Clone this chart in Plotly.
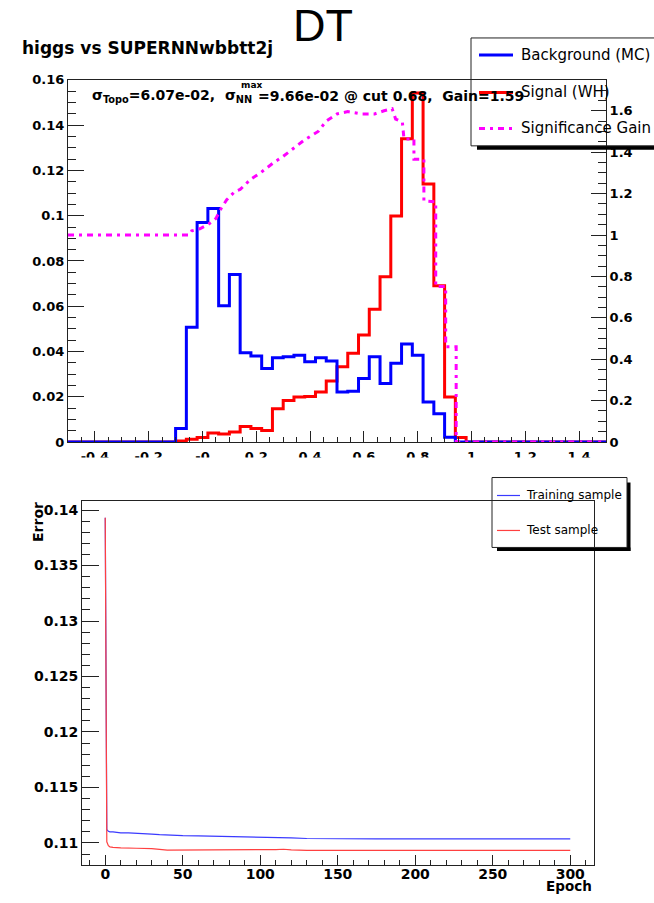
import numpy as np
import plotly.graph_objects as go

W, H = 654, 903

# ---------------- data: top panel (MVA output histograms) ----------------
bin_lo, bin_hi, n_bins = -0.5, 1.5, 50
background_mc = [
    0, 0, 0, 0, 0, 0, 0, 0, 0, 0,
    0.006, 0.0507, 0.097, 0.1032, 0.0602, 0.074, 0.0395, 0.038, 0.0325, 0.0373,
    0.0377, 0.0384, 0.0355, 0.0373, 0.0358, 0.0221, 0.0224, 0.0281, 0.0377, 0.0259,
    0.0348, 0.0433, 0.0384, 0.0177, 0.0125, 0.0021, 0, 0, 0, 0,
    0, 0, 0, 0, 0, 0, 0, 0, 0, 0,
]
signal_wh = [
    0, 0, 0, 0, 0, 0, 0, 0, 0, 0,
    0.0005, 0.0012, 0.002, 0.004, 0.0036, 0.0044, 0.0069, 0.006, 0.0051, 0.0147,
    0.0184, 0.0199, 0.0201, 0.0221, 0.027, 0.0333, 0.0392, 0.0473, 0.0587, 0.073,
    0.0999, 0.134, 0.1542, 0.114, 0.0691, 0.0199, 0.002, 0, 0, 0,
    0, 0, 0, 0, 0, 0, 0, 0, 0, 0,
]
gain_cut = [-0.50, -0.05, -0.04, -0.01, 0.02, 0.05, 0.07, 0.09, 0.12, 0.14, 0.18, 0.215,
            0.265, 0.30, 0.34, 0.38, 0.43, 0.46, 0.50, 0.54, 0.59, 0.64, 0.675, 0.705,
            0.718, 0.743, 0.749, 0.786, 0.786, 0.823, 0.823, 0.867, 0.867, 0.904, 0.904,
            0.943, 0.943, 1.50]
gain_val = [1.00, 1.00, 1.02, 1.03, 1.05, 1.08, 1.13, 1.17, 1.21, 1.22, 1.27, 1.30,
            1.35, 1.38, 1.42, 1.46, 1.50, 1.55, 1.585, 1.596, 1.585, 1.585, 1.60, 1.61,
            1.56, 1.545, 1.464, 1.464, 1.366, 1.366, 1.164, 1.16, 0.751, 0.751, 0.46,
            0.46, 0.0, 0.0]
top_xtick_vals = [-0.4, -0.2, 0.0, 0.2, 0.4, 0.6, 0.8, 1.0, 1.2, 1.4]
top_xtick_text = ["-0.4", "-0.2", "-0", "0.2", "0.4", "0.6", "0.8", "1", "1.2", "1.4"]

# ---------------- data: bottom panel (training error) ----------------
train_epoch = [0, 1, 2, 3, 5, 8, 10, 15, 20, 25, 30, 35, 40, 45, 50, 60, 70, 80, 90,
               100, 110, 120, 130, 140, 150, 175, 200, 225, 250, 275, 300]
train_error = [0.1393, 0.1112, 0.11105, 0.1110, 0.1110, 0.11095, 0.1109, 0.1109, 0.11088,
               0.11085, 0.1108, 0.11075, 0.1107, 0.11068, 0.11066, 0.11064, 0.11062,
               0.1106, 0.11057, 0.11055, 0.1105, 0.11045, 0.1104, 0.11038, 0.11037,
               0.11036, 0.11036, 0.11036, 0.11036, 0.11036, 0.11036]
test_epoch = [0, 1, 2, 3, 5, 10, 20, 30, 40, 50, 60, 70, 80, 100, 110, 115, 120, 130,
              150, 175, 200, 225, 250, 275, 300]
test_error = [0.1393, 0.1101, 0.10975, 0.10965, 0.1096, 0.10955, 0.10952, 0.10948,
              0.10935, 0.10935, 0.10935, 0.10937, 0.10935, 0.10935, 0.1094, 0.10943,
              0.10937, 0.10933, 0.10932, 0.10932, 0.10932, 0.10932, 0.10932, 0.10932,
              0.10932]

# ---------------- geometry helpers (picture pixels -> paper fractions) ----------------
SY, OY = 0.9844, 6.0   # vertical mapping observed between page and photograph


def fx(p):
    return p / W


def fy(p):
    return 1 - ((p - OY) / SY) / H


edges = np.linspace(bin_lo, bin_hi, n_bins + 1)


def steps(vals):
    return list(vals) + [vals[-1]]


BOLD = dict(family="DejaVu Sans", size=13, color="black", weight="bold")
BOLD14 = dict(family="DejaVu Sans", size=14, color="black", weight="bold")

fig = go.Figure()
fig.add_trace(go.Scatter(x=edges, y=steps(signal_wh), mode="lines", line_shape="hv",
                         line=dict(color="#ff0000", width=3), xaxis="x", yaxis="y",
                         name="Signal (WH)"))
fig.add_trace(go.Scatter(x=edges, y=steps(background_mc), mode="lines", line_shape="hv",
                         line=dict(color="#0000ff", width=3), xaxis="x", yaxis="y",
                         name="Background (MC)"))
fig.add_trace(go.Scatter(x=gain_cut, y=gain_val, mode="lines",
                         line=dict(color="#ff00ff", width=3, dash="6px,5px,3px,5px"),
                         xaxis="x", yaxis="y2", name="Significance Gain"))
fig.add_trace(go.Scatter(x=train_epoch, y=train_error, mode="lines",
                         line=dict(color="#3a3aff", width=1.2), xaxis="x2", yaxis="y3",
                         name="Training sample"))
fig.add_trace(go.Scatter(x=test_epoch, y=test_error, mode="lines",
                         line=dict(color="#ff4040", width=1.2), xaxis="x2", yaxis="y3",
                         name="Test sample"))

axis_common = dict(showgrid=False, zeroline=False, showline=True, linecolor="#222",
                   linewidth=1, ticks="inside", tickcolor="#222", tickwidth=1)

fig.update_layout(
    width=W, height=H, margin=dict(l=0, r=0, t=0, b=0),
    paper_bgcolor="white", plot_bgcolor="white", showlegend=False,
    xaxis=dict(domain=[fx(68), fx(606)], anchor="y", range=[bin_lo, bin_hi],
               tickmode="array", tickvals=top_xtick_vals, ticktext=top_xtick_text,
               ticklen=11, mirror=True, tickfont=BOLD, ticklabelstandoff=2,
               minor=dict(ticks="inside", ticklen=5, tickmode="linear", tick0=-0.5,
                          dtick=0.05, tickcolor="#222"),
               **axis_common),
    yaxis=dict(domain=[fy(441.5), fy(79)], anchor="x", range=[0, 0.16],
               tickmode="linear", tick0=0, dtick=0.02, ticklen=16, tickfont=BOLD,
               minor=dict(ticks="inside", ticklen=8, tickmode="linear", tick0=0,
                          dtick=0.005, tickcolor="#222"),
               **axis_common),
    yaxis2=dict(overlaying="y", anchor="x", side="right", range=[0, 1.749],
                tickmode="linear", tick0=0, dtick=0.2, ticklen=15, tickfont=BOLD,
                minor=dict(ticks="inside", ticklen=8, tickmode="linear", tick0=0,
                           dtick=0.05, tickcolor="#222"),
                **axis_common),
    xaxis2=dict(domain=[fx(82), fx(593.5)], anchor="y3", range=[-15, 315],
                tickmode="linear", tick0=0, dtick=50, ticklen=10, mirror=True,
                tickfont=BOLD14, ticklabelstandoff=-4,
                minor=dict(ticks="inside", ticklen=5, tickmode="linear", tick0=0,
                           dtick=10, tickcolor="#222"),
                **axis_common),
    yaxis3=dict(domain=[fy(865), fy(500.7)], anchor="x2", range=[0.1080, 0.1408],
                tickmode="linear", tick0=0.11, dtick=0.005, ticklen=17, mirror=True,
                tickfont=BOLD14,
                minor=dict(ticks="inside", ticklen=8, tickmode="linear", tick0=0.11,
                           dtick=0.001, tickcolor="#222"),
                **axis_common),
)

shapes = []
annotations = []


def rect(x0, y0, x1, y1, fill=None, line=None, layer="above"):
    d = dict(type="rect", xref="paper", yref="paper", x0=fx(x0), x1=fx(x1),
             y0=fy(y1), y1=fy(y0), layer=layer)
    d["fillcolor"] = fill if fill else "rgba(0,0,0,0)"
    d["line"] = line if line else dict(width=0)
    shapes.append(d)


def hline(x0, x1, y, color, width, dash="solid"):
    shapes.append(dict(type="line", xref="paper", yref="paper", x0=fx(x0), x1=fx(x1),
                       y0=fy(y), y1=fy(y), line=dict(color=color, width=width, dash=dash)))


def text(x, y, s, font, xanchor="left", yanchor="middle", angle=0):
    annotations.append(dict(x=fx(x), y=fy(y), xref="paper", yref="paper", text=s,
                            showarrow=False, xanchor=xanchor, yanchor=yanchor,
                            font=font, textangle=angle, borderpad=0))


# white pad covering the lower part of the top x labels
rect(0, 457, W, 474, fill="white")

# top legend
rect(477, 145, 662, 149, fill="black")
rect(471, 37, 662, 145, line=dict(color="#222", width=1))
hline(479, 513, 54, "#0000ff", 3)
hline(479, 513, 91.5, "#ff0000", 3)
hline(479, 513, 127.5, "#ff00ff", 3, "6px,5px,3px,5px")
LEG = dict(family="DejaVu Sans", size=15, color="black")
text(520, 54, "Background (MC)", LEG)
text(520, 91.5, "Signal (WH)", LEG)
text(520, 127.5, "Significance Gain", LEG)

# bottom legend
rect(627, 482, 630.5, 550.5, fill="black")
rect(497, 547, 630.5, 550.5, fill="black")
rect(492, 477, 627, 547, line=dict(color="#222", width=1))
hline(497, 520, 495, "#3a3aff", 1.2)
hline(497, 520, 530, "#ff4040", 1.2)
LEG2 = dict(family="DejaVu Sans", size=12, color="black")
text(525, 495, "Training sample", LEG2)
text(525, 530, "Test sample", LEG2)

# titles
text(21, 47, "higgs vs SUPERNNwbbtt2j",
     dict(family="DejaVu Sans", size=17, color="black", weight="bold"))
text(323, 24.5, "DT", dict(family="Liberation Sans", size=45, color="black"),
     xanchor="center")

# significance annotation
SIGF = dict(family="DejaVu Sans", size=14, color="black", weight="bold")
text(91, 95, "σ<sub>Topo</sub>=6.07e-02,&nbsp; σ<sub>NN</sub>", SIGF)
text(239.5, 84.5, "max", dict(family="DejaVu Sans", size=9, color="black", weight="bold"))
text(525, 95, "=9.66e-02 @ cut 0.68,&nbsp; Gain=1.59", SIGF, xanchor="right")

# axis titles of the bottom panel
text(38.5, 522, "Error", BOLD14, xanchor="center", angle=-90)
annotations.append(dict(x=fx(593), y=0, xref="paper", yref="paper", text="Epoch",
                        showarrow=False, xanchor="right", yanchor="bottom",
                        valign="bottom", height=14,
                        font=dict(family="DejaVu Sans", size=13.5, color="black",
                                  weight="bold"), borderpad=0))

fig.update_layout(shapes=shapes, annotations=annotations)
fig.write_html("out.html", config={"displayModeBar": False},
               post_script="document.body.style.margin='0px';document.body.style.overflow='hidden';")
